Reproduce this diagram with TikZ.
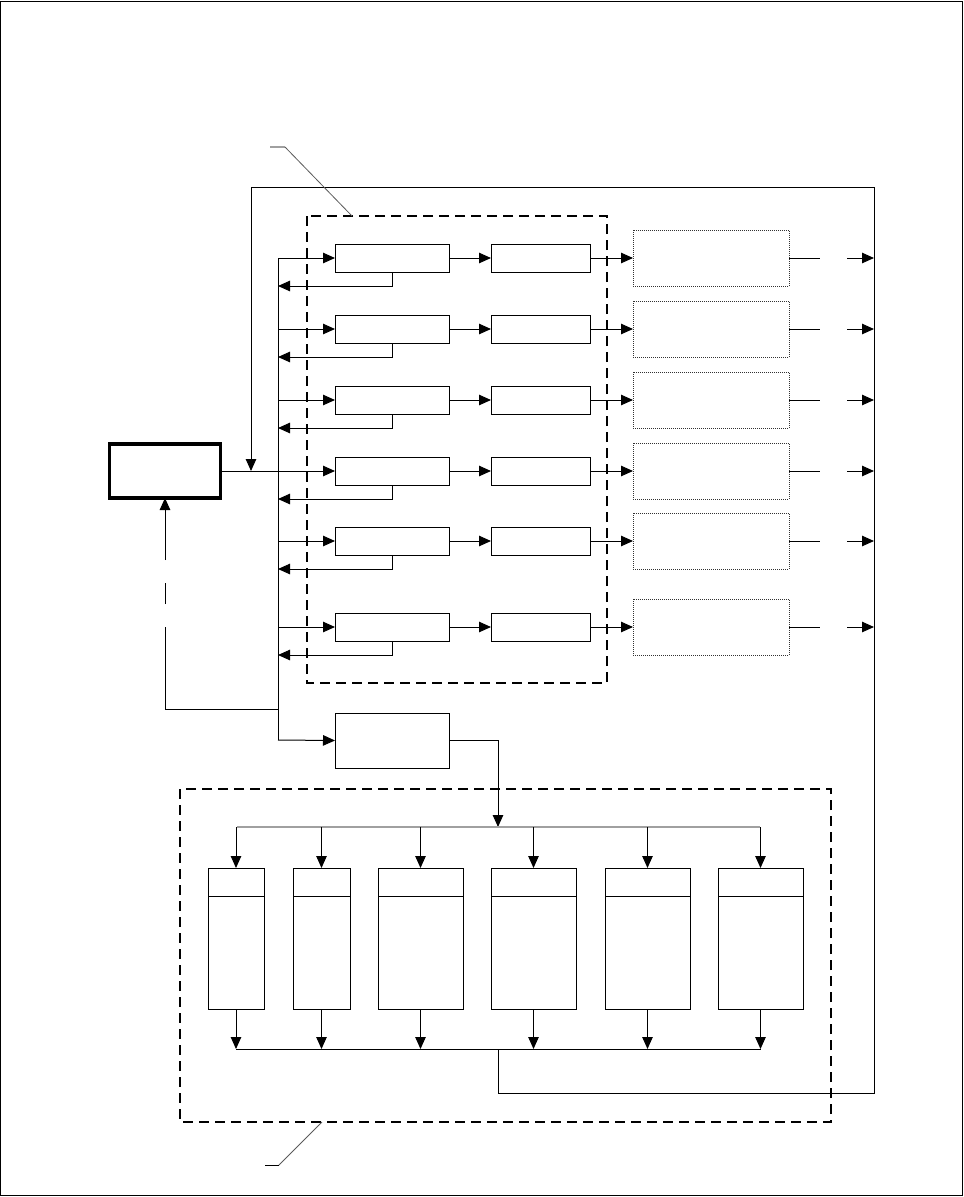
\documentclass[tikz,border=0pt]{standalone}
\usetikzlibrary{arrows.meta,calc}
\definecolor{lgray}{RGB}{160,160,160}
\definecolor{dgray}{RGB}{90,90,90}
\definecolor{dotgray}{RGB}{50,50,50}
\tikzset{
  ln/.style={line width=1pt},
  arr/.style={line width=1pt,-{Triangle[length=12pt,width=10.5pt]}},
  blk/.style={draw,line width=1pt,inner sep=0pt,outer sep=0pt,minimum height=28pt},
  dotbox/.style={draw=dotgray,line width=1pt,dash pattern=on 1pt off 1pt,inner sep=0pt,outer sep=0pt,minimum width=156pt,minimum height=56pt},
  colbox/.style={draw,line width=1pt,inner sep=0pt,outer sep=0pt,minimum height=141pt},
  grp/.style={line width=1.8pt,dash pattern=on 10pt off 6pt},
  leader/.style={draw=dgray,line width=0.8pt}
}
\begin{document}
\begin{tikzpicture}[x=1pt,y=-1pt]
\useasboundingbox (0,0) rectangle (964,1197);
\draw[line width=1pt] (0.5,1) rectangle (962.5,1195.5);

% main box
\node[draw,line width=3.5pt,inner sep=0pt,outer sep=0pt,minimum width=111pt,minimum height=54pt] (M) at (165,471) {};

% rows
\foreach \i/\y in {1/258,2/329,3/400,4/471,5/541,6/627}{
  \node[blk,minimum width=114pt] (ra\i) at (392,\y) {};
  \node[blk,minimum width=99pt] (rb\i) at (540.5,\y) {};
  \node[dotbox] (rc\i) at (711,\y) {};
  \coordinate (bs\i) at (278,\y);
  \coordinate (fb\i) at (278,\y+28);
  \coordinate (ot\i) at (874,\y);
  \draw[arr] (ra\i) -- (rb\i);
  \draw[arr] (rb\i) -- (rc\i);
  \draw[arr] (ra\i.south) |- (fb\i);
  \draw[ln] (rc\i.east) -- ++(31,0);
  \draw[arr] ($(ot\i)+(-27,0)$) -- (ot\i);
}
\foreach \i in {1,2,3,5,6}{
  \draw[arr] (bs\i) -- (ra\i);
}
\draw[arr] (M.east) -- (ra4.west);

% bus
\coordinate (busbot) at (278,740);
\coordinate (jm) at (278,709);
\draw[ln] (bs1) -- (busbot);

% bottom box
\node[blk,minimum width=114pt,minimum height=55pt] (D) at (392,740.5) {};
\draw[arr] (busbot) -- (D.west);
\coordinate (gtop) at (498,827);
\draw[arr] (D.east) -| (gtop);

% feedback to main box (broken line)
\coordinate (g1) at (165,627);
\coordinate (g2) at (165,604);
\coordinate (g3) at (165,583);
\coordinate (g4) at (165,560);
\draw[ln] (jm) -| (g1);
\draw[ln] (g2) -- (g3);
\draw[arr] (g4) -- (M.south);

% grey distribution bus
\coordinate (gl) at (237,827);
\coordinate (gr) at (760,827);
\draw[draw=lgray,line width=1.2pt] (gl) -- (gr);

% column boxes
\foreach \k/\x/\w in {1/236/56,2/321.5/57,3/420.5/85,4/533.5/85,5/647.5/85,6/760.5/85}{
  \node[colbox,minimum width=\w pt] (k\k) at (\x,938.5) {};
  \draw[ln] ($(k\k.north west)+(0,28)$) -- ($(k\k.north east)+(0,28)$);
  \coordinate (kt\k) at (\x,827);
  \coordinate (kb\k) at (\x,1049);
  \draw[arr] (kt\k) -- (k\k.north);
  \draw[arr] (k\k.south) -- (kb\k);
}
\draw[ln] (kb1) -- (kb6);

% long feedback loop
\coordinate (jb) at (498,1049);
\coordinate (mt) at (251,471);
\draw[arr] (jb) |- (874,1093) |- (251,187) -- (mt);

% group boxes
\draw[grp] (307,216) rectangle (607,683);
\draw[grp] (180,789) rectangle (831,1122);

% leaders
\draw[draw=lgray,line width=1.2pt] (270,147) -- (285,147);
\draw[leader] (285,147) -- (352,216);
\draw[leader] (322,1122) -- (279,1165);
\draw[ln] (279,1165) -- (265,1165);
\end{tikzpicture}
\end{document}
